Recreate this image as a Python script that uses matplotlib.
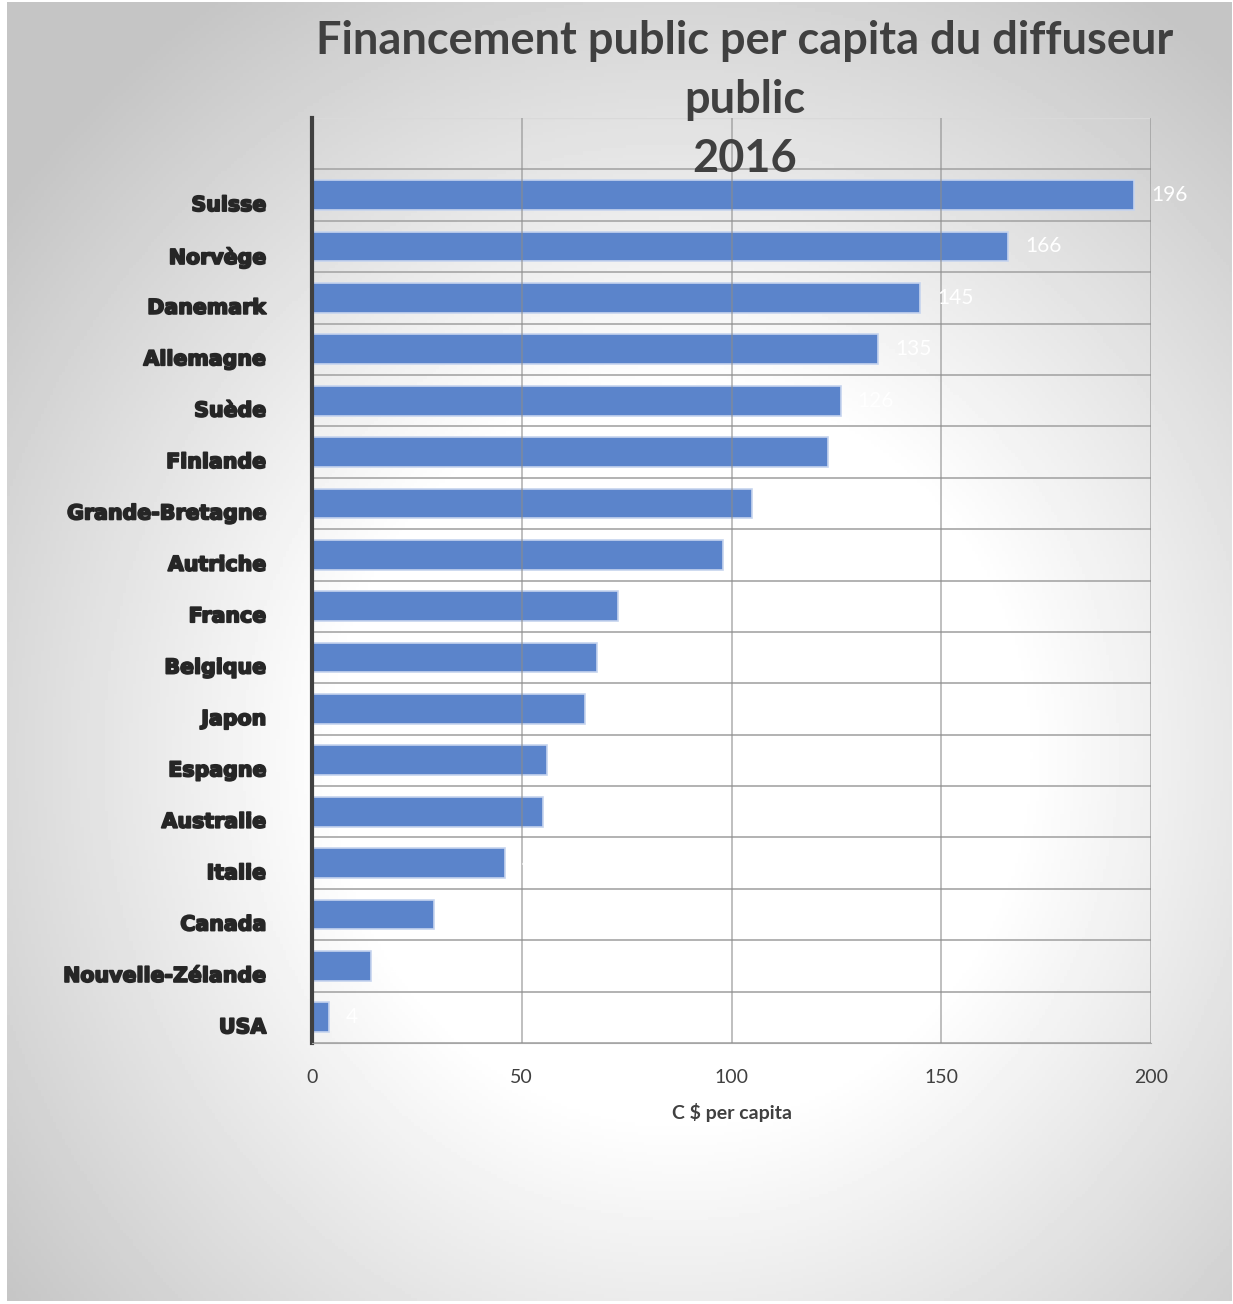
import numpy as np
import matplotlib.pyplot as plt
import matplotlib.patheffects as pe

#---------------data
pays = ['Suisse', 'Norvège', 'Danemark', 'Allemagne', 'Suède', 'Finlande',
        'Grande-Bretagne', 'Autriche', 'France', 'Belgique', 'Japon',
        'Espagne', 'Australie', 'Italie', 'Canada', 'Nouvelle-Zélande', 'USA']
valeurs = [196, 166, 145, 135, 126, 123, 105, 98, 73, 68, 65, 56, 55, 46, 29, 14, 4]
x_ticks = [0, 50, 100, 150, 200]

titre = 'Financement public per capita du diffuseur\npublic\n2016'
x_titre = 'C $ per capita'

W, H = 1233, 1304
fig = plt.figure(figsize=(W / 100, H / 100), dpi=100)
fig.patch.set_facecolor('white')

#---------------grey background, white in the middle
bg = fig.add_axes([7 / W, 3 / H, 1225 / W, 1299 / H])
yy, xx = np.mgrid[0:1:400j, 0:1:400j]
d = np.sqrt((xx - 0.55) ** 2 + (yy - 0.58) ** 2)
shade = np.clip(1 - 0.55 * np.clip(d - 0.28, 0, None), 0.77, 1.0)
bg.imshow(shade, cmap='gray', vmin=0, vmax=1, aspect='auto', extent=[0, 1, 0, 1])
bg.axis('off')

#---------------plot area
ax = fig.add_axes([312 / W, 1 - 1043 / H, (1151 - 312) / W, (1043 - 118) / H])
ax.set_facecolor('none')
n = len(pays)
ypos = np.arange(n)[::-1]

ax.barh(ypos, valeurs, height=0.58, color='#5b84cb', edgecolor='#c6d4ee',
        linewidth=1.2, zorder=2)

for y, v in zip(ypos, valeurs):
    ax.text(v + 4, y, str(v), color='white', fontsize=15, family='Lato',
            va='center', ha='left', zorder=3)

ax.set_xlim(0, 200)
ax.set_ylim(-0.5, n + 0.5)
ax.set_xticks(x_ticks)
ax.set_xticklabels([str(t) for t in x_ticks], fontsize=14, family='Lato', color='#404040')
ax.tick_params(axis='x', length=0, pad=19)

# vertical gridlines on top of the bars, horizontal ones between categories
for t in x_ticks[1:]:
    ax.axvline(t, color='#8c8c8c', linewidth=1.1, alpha=0.7, zorder=2.5)
for b in np.arange(-0.5, n + 0.5, 1.0):
    ax.axhline(b, color='#a6a6a6', linewidth=1.2, zorder=1)
ax.axhline(n + 0.5, color='#d9d9d9', linewidth=1.0, zorder=1)

ax.set_yticks(ypos)
ax.set_yticklabels(pays, fontsize=14.8, family='DejaVu Sans', fontweight='bold', color='#262626')
ax.tick_params(axis='y', length=0, pad=33)
for lab in ax.get_yticklabels():
    lab.set_va('top')
    lab.set_path_effects([pe.withStroke(linewidth=1.3, foreground='#262626')])

for s in ['top', 'right']:
    ax.spines[s].set_visible(False)
ax.spines['bottom'].set_color('#a6a6a6')
ax.spines['left'].set_color('#404040')
ax.spines['left'].set_linewidth(3)

ax.set_xlabel(x_titre, fontsize=14, family='Lato', fontweight='bold',
              color='#404040', labelpad=12)

fig.text(745 / W, 1 - 20 / H, titre, ha='center', va='top', fontsize=32.5,
         family='Lato', fontweight='bold', color='#404040', linespacing=1.5)

fig.savefig('out.png', dpi=100, facecolor=fig.get_facecolor())
